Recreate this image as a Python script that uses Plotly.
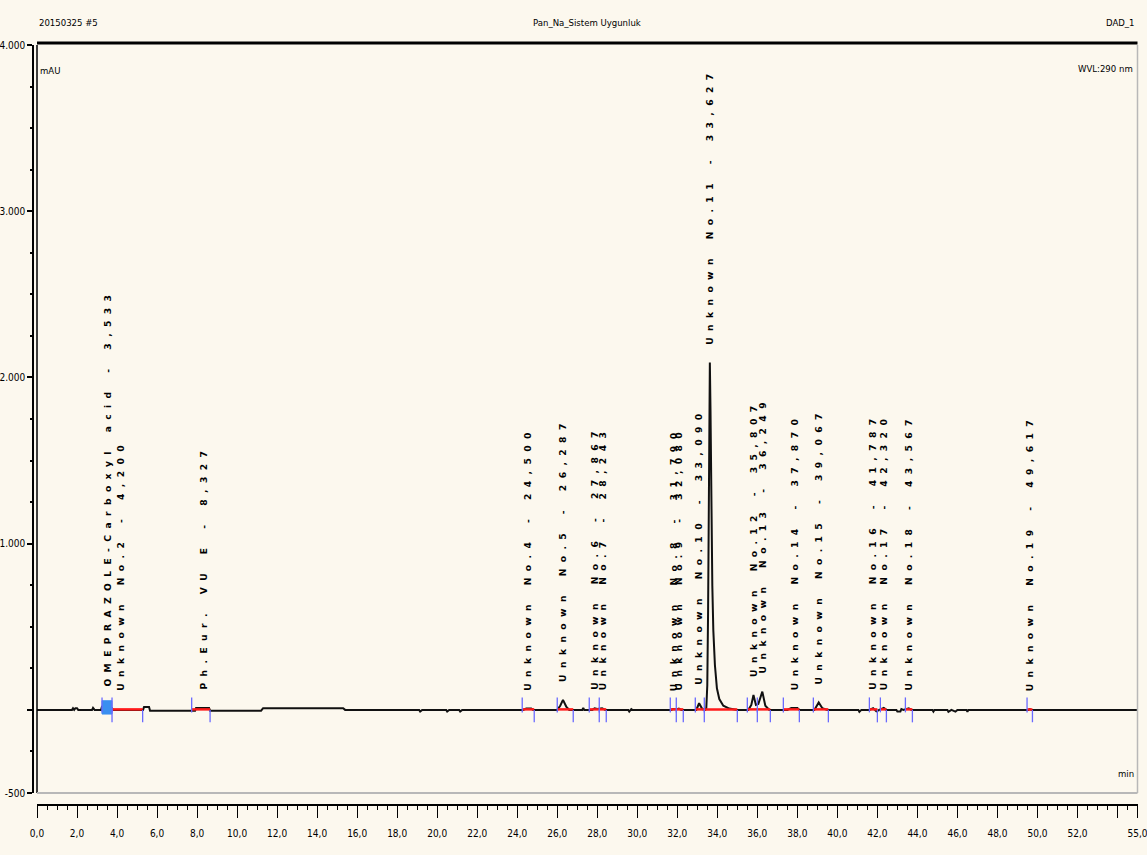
import plotly.graph_objects as go

# ---- page geometry -------------------------------------------------------
W, H = 1147, 855
ML, MR, MT, MB = 33, 9, 42, 50
PW, PH = W - ML - MR, H - MT - MB


def px(xp):
    return (xp - ML) / PW


def py(yp):
    return (H - MB - yp) / PH


BG = "#fcf8ee"
NARROW = "DejaVu Sans Condensed, Liberation Sans Narrow, Arial Narrow, sans-serif"

# ---- chromatogram signal: retention time (min) / absorbance (mAU) -------
trace_time = [
    0.00, 1.75, 1.80, 1.86, 1.92, 2.00, 2.06, 2.75, 2.80, 2.88,
    3.20, 3.25, 3.50, 3.75, 3.80, 4.10, 4.20, 4.30, 5.30, 5.35,
    5.60, 5.65, 7.70, 7.90, 7.95, 8.60, 8.65, 11.20, 11.30, 15.30,
    15.40, 19.10, 19.15, 19.25, 20.45, 20.50, 20.60, 21.10, 21.15, 21.25,
    24.30, 24.45, 24.70, 24.80, 26.00, 26.15, 26.287, 26.45, 26.60, 27.25,
    27.30, 27.35, 27.75, 27.867, 28.00, 28.243, 28.40, 29.55, 29.60, 29.70,
    29.75, 31.70, 31.79, 31.95, 32.08, 32.20, 32.95, 33.09, 33.25, 33.40,
    33.45, 33.50, 33.54, 33.58, 33.627, 33.66, 33.70, 33.75, 33.80, 33.88,
    33.98, 34.10, 34.30, 34.60, 35.00, 35.55, 35.70, 35.807, 35.93, 36.05,
    36.249, 36.40, 36.60, 37.50, 37.70, 38.00, 38.10, 38.85, 39.067, 39.25,
    39.50, 41.05, 41.10, 41.20, 41.60, 41.787, 41.95, 42.10, 42.320, 42.45,
    42.95, 43.00, 43.15, 43.20, 43.30, 43.567, 43.70, 44.75, 44.80, 44.85,
    45.50, 45.55, 45.70, 45.90, 46.00, 46.45, 46.50, 46.55, 49.55, 49.617,
    49.70, 55.00,
]
trace_mau = [
    0, 0, 10, 0, 10, 10, 0, 0, 12, 0,
    0, 20, 30, 10, 0, 0, 4, 0, 0, 18,
    18, -5, -5, -5, 12, 12, -5, -5, 10, 10,
    0, 0, -10, 0, 0, -10, 0, 0, -10, 0,
    0, 8, 8, 0, 0, 25, 60, 20, 0, 0,
    12, 0, 0, 10, 5, 10, 0, 0, -10, 5,
    0, 0, 5, 3, 8, 0, 0, 40, 5, 0,
    10, 150, 600, 1400, 2090, 1800, 1200, 750, 480, 270,
    130, 65, 25, 8, 0, 0, 30, 90, 30, 35,
    110, 25, 0, 0, 12, 12, 0, 0, 45, 10,
    0, 0, -12, 0, 0, 10, -8, 0, 12, 0,
    0, -10, -10, 5, 0, 10, 0, 0, -10, 0,
    0, -12, 0, -10, 0, 0, -12, 0, 0, 5,
    0, 0,
]

# ---- identified peaks ----------------------------------------------------
peak_names = [
    "OMEPRAZOLE-Carboxyl acid", "Unknown No.2", "Ph.Eur. VU E",
    "Unknown No.4", "Unknown No.5", "Unknown No.6", "Unknown No.7",
    "Unknown No.8", "Unknown No.9", "Unknown No.10", "Unknown No.11",
    "Unknown No.12", "Unknown No.13", "Unknown No.14", "Unknown No.15",
    "Unknown No.16", "Unknown No.17", "Unknown No.18", "Unknown No.19",
]
peak_rt = [
    3.533, 4.200, 8.327, 24.500, 26.287, 27.867, 28.243, 31.790, 32.080,
    33.090, 33.627, 35.807, 36.249, 37.870, 39.067, 41.787, 42.320,
    43.567, 49.617,
]
peak_apex = [
    30, 4, 12, 8, 60, 10, 10, 5, 8, 40, 2090, 90, 110, 12, 45, 10, 12,
    10, 5,
]
window_start = [
    3.25, 3.75, 7.73, 24.25, 26.00, 27.60, 28.10, 31.65, 31.95, 32.90,
    33.35, 35.50, 36.00, 37.30, 38.80, 41.60, 42.15, 43.40, 49.48,
]
window_end = [
    3.75, 5.28, 8.65, 24.85, 26.80, 28.10, 28.45, 31.95, 32.30, 33.35,
    35.00, 36.00, 36.65, 38.10, 39.55, 42.00, 42.45, 43.75, 49.75,
]

# ---- axis ticks ----------------------------------------------------------
x_major = list(range(0, 54, 2)) + [54, 55]
x_text = [f"{v:.1f}".replace(".", ",") for v in x_major]
x_text[x_major.index(54)] = ""
x_minor = [h / 2 for h in range(0, 111) if h % 4 and h / 2 not in (54, 55)]
y_major = [-500, 0, 1000, 2000, 3000, 4000]
y_text = ["-500", "", "1.000", "2.000", "3.000", "4.000"]
y_minor = [v for v in range(-250, 4000, 250) if v % 1000]

fig = go.Figure()

# integration baselines (red)
bx, by = [], []
for s, e in zip(window_start, window_end):
    bx += [s, e, None]
    by += [3, 3, None]

# peak start / end delimiters (blue)
TICK = 75
dx, dy = [], []
for s, e in zip(window_start, window_end):
    dx += [s, s, None, e, e, None]
    dy += [-15, TICK, None, 0, -TICK, None]

fig.add_trace(go.Scatter(
    x=trace_time, y=trace_mau, mode="lines",
    line=dict(color="#111111", width=2), showlegend=False,
))
fig.add_trace(go.Scatter(
    x=bx, y=by, mode="lines", line=dict(color="#ff1a1a", width=2.5),
    hoverinfo="skip", showlegend=False,
))

# highlighted main-component window (filled)
s0, e0 = window_start[0], window_end[0]
fig.add_trace(go.Scatter(
    x=[s0, s0, e0, e0, s0], y=[-25, 55, 55, -25, -25],
    mode="lines", fill="toself", fillcolor="#3a8ff0",
    line=dict(color="#3a8ff0", width=1), hoverinfo="skip", showlegend=False,
))

fig.add_trace(go.Scatter(
    x=dx, y=dy, mode="lines", line=dict(color="#6a6aff", width=1.3),
    hoverinfo="skip", showlegend=False,
))

# peak labels, written vertically with wide letter spacing
SP = "\u2007"
annotations = []
for name, rt, apex in zip(peak_names, peak_rt, peak_apex):
    label = f"{name} - " + f"{rt:.3f}".replace(".", ",")
    spaced = SP.join(label.replace(" ", SP))
    annotations.append(dict(
        x=rt, y=apex, xref="x", yref="y", text=spaced, textangle=-90,
        showarrow=False, xanchor="center", yanchor="bottom", yshift=16,
        font=dict(family="DejaVu Sans", size=9.2, color="#000000",
                  weight="bold"),
    ))

header_font = dict(family=NARROW, size=9.5, color="#000000")
annotations += [
    dict(x=px(37), y=py(23), xref="paper", yref="paper", text="20150325 #5",
         showarrow=False, xanchor="left", yanchor="middle", font=header_font),
    dict(x=px(587), y=py(23), xref="paper", yref="paper",
         text="Pan_Na_Sistem Uygunluk", showarrow=False, xanchor="center",
         yanchor="middle", font=header_font),
    dict(x=px(1137), y=py(23), xref="paper", yref="paper", text="DAD_1",
         showarrow=False, xanchor="right", yanchor="middle", font=header_font),
    dict(x=px(38), y=py(70), xref="paper", yref="paper", text="mAU",
         showarrow=False, xanchor="left", yanchor="middle", font=header_font),
    dict(x=px(1135), y=py(69), xref="paper", yref="paper", text="WVL:290 nm",
         showarrow=False, xanchor="right", yanchor="middle", font=header_font),
    dict(x=px(1136), y=py(773), xref="paper", yref="paper", text="min",
         showarrow=False, xanchor="right", yanchor="middle", font=header_font),
]

# plot frame: heavy top, dark left, light bottom/right
shapes = [
    dict(type="line", xref="x domain", yref="y domain", x0=0, x1=1,
         y0=2, y1=2, ysizemode="pixel", yanchor=1,
         line=dict(color="#000000", width=3)),
    dict(type="line", xref="x domain", yref="y domain", x0=0, x1=0,
         y0=0, y1=1, line=dict(color="#000000", width=1.5)),
    dict(type="line", xref="x domain", yref="y domain", x0=1, x1=1,
         y0=0, y1=1, line=dict(color="#b8b8b8", width=1.5)),
    dict(type="line", xref="x domain", yref="y domain", x0=0, x1=1,
         y0=0, y1=0, line=dict(color="#b8b8b8", width=2)),
]

fig.update_layout(
    width=W, height=H,
    margin=dict(l=ML, r=MR, t=MT, b=MB, pad=0, autoexpand=False),
    paper_bgcolor=BG, plot_bgcolor=BG,
    showlegend=False,
    annotations=annotations,
    shapes=shapes,
    xaxis=dict(
        domain=[px(37), px(1137.5)], range=[0, 55],
        anchor="free", position=0, automargin=False,
        showgrid=False, zeroline=False,
        showline=True, linecolor="#000000", linewidth=2,
        ticks="outside", ticklen=12, tickwidth=1, tickcolor="#000000",
        tickmode="array", tickvals=x_major, ticktext=x_text,
        ticklabeloverflow="allow", ticklabelstandoff=7,
        tickfont=dict(family=NARROW, size=10, color="#000000"),
        minor=dict(tickmode="array", tickvals=x_minor,
                   ticks="outside", ticklen=4, tickwidth=1, tickcolor="#000000"),
    ),
    yaxis=dict(
        domain=[py(793), py(45)], range=[-500, 4000],
        anchor="free", position=0, automargin=False,
        showgrid=False, zeroline=False,
        showline=True, linecolor="#000000", linewidth=1.5,
        ticks="outside", ticklen=5, tickwidth=1.5, tickcolor="#000000",
        tickmode="array", tickvals=y_major, ticktext=y_text,
        ticklabeloverflow="allow",
        tickfont=dict(family=NARROW, size=10, color="#000000"),
        minor=dict(tickmode="array", tickvals=y_minor,
                   ticks="outside", ticklen=2, tickwidth=1.5, tickcolor="#000000"),
    ),
)

fig.write_html("out.html")
